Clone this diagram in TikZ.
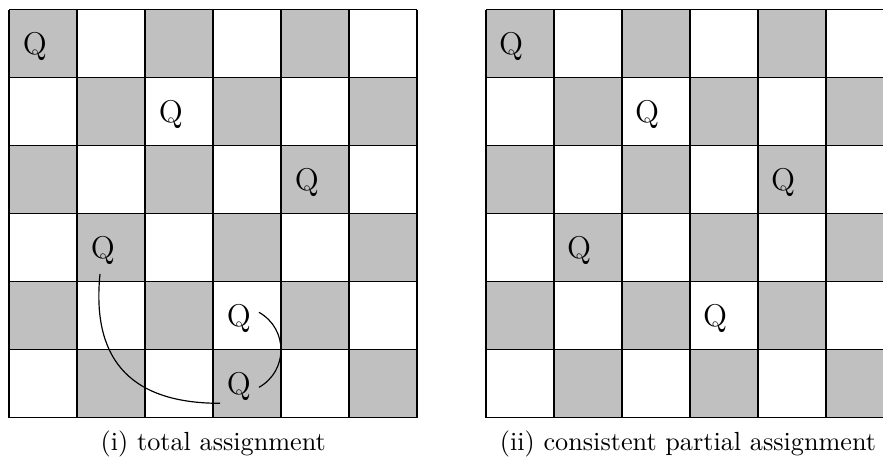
\documentclass[tikz,border=0pt]{standalone}
\usetikzlibrary{calc}
\definecolor{sqgray}{RGB}{192,192,192}
\tikzset{
  cellfill/.style={fill=sqgray},
  gridline/.style={line width=0.65pt, draw=black},
  queen/.style={inner sep=0pt, font=\large, anchor=base},
  attack/.style={line width=0.45pt, draw=black},
  caption/.style={inner sep=0pt, anchor=base, font=\normalsize}
}
\begin{document}
\begin{tikzpicture}[x=0.3817pt, y=-0.3817pt]
\useasboundingbox (0,0) rectangle (883,459);
\begin{scope}
  \clip (0,0) rectangle (883,459);
  \foreach \ox in {9.3, 485.7} {
    \foreach \r in {0,...,5} {
      \foreach \c in {0,...,5} {
        \pgfmathtruncatemacro{\cpar}{mod(\r+\c,2)}
        \ifnum\cpar=0
          \fill[cellfill] ({\ox+68*\c},{9.5+68*\r}) rectangle ++(68,68);
        \fi
      }
    }
    \foreach \i in {0,...,6} {
      \draw[gridline] ({\ox+68*\i},9.5) -- ++(0,408);
      \draw[gridline] (\ox,{9.5+68*\i}) -- ++(408,0);
    }
  }
\end{scope}
% queens, left board
\node[queen] (L0) at (34.8,54.5) {Q};
\node[queen] (L1) at (170.8,122.5) {Q};
\node[queen] (L2) at (306.8,190.5) {Q};
\node[queen] (L3) at (102.8,258.5) {Q};
\node[queen] (L4) at (238.8,326.5) {Q};
\node[queen] (L5) at (238.8,394.5) {Q};
% queens, right board
\node[queen] (R0) at (511.2,54.5) {Q};
\node[queen] (R1) at (647.2,122.5) {Q};
\node[queen] (R2) at (783.2,190.5) {Q};
\node[queen] (R3) at (579.2,258.5) {Q};
\node[queen] (R4) at (715.2,326.5) {Q};
% attacks
\draw[attack] ($(L3.base)+(-2.8,15.5)$) .. controls +(-8,80) and +(-95,0) .. ($(L5.base)+(-18.8,8.8)$);
\draw[attack] ($(L4.base)+(20.2,-14.2)$) .. controls +(29.3,16.6) and +(29.3,-16.6) .. ($(L5.base)+(20.2,-7.2)$);
% captions
\node[caption] (capL) at (213.3,450) {(i) total assignment};
\node[caption] (capR) at (688,450) {(ii) consistent partial assignment};
\end{tikzpicture}
\end{document}
